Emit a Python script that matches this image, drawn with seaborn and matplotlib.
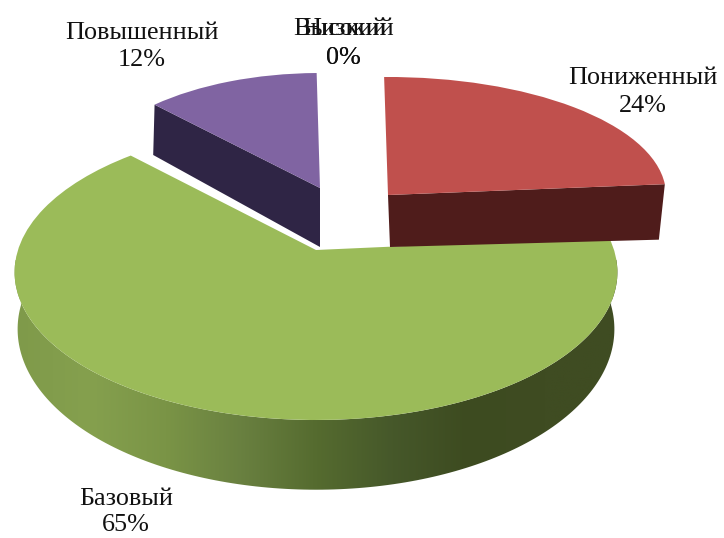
import numpy as np
import matplotlib
matplotlib.use("Agg")
import matplotlib.pyplot as plt
from matplotlib.colors import LinearSegmentedColormap
from matplotlib.patches import Polygon
from matplotlib.transforms import Transform
import seaborn as sns

sns.set_theme(style="white")
plt.rcParams['font.family'] = ['Liberation Serif', 'DejaVu Serif']

categories = ["Пониженный", "Базовый", "Повышенный", "Высокий", "Низкий"]
values = [24, 65, 12, 0, 0]
percent_labels = ["24%", "65%", "12%", "0%", "0%"]
top_colors = ["#C0504D", "#9BBB59", "#8064A2", "#4BACC6", "#F79646"]
side_colors = ["#4F1C1B", "#3E4C20", "#2F2545"]
green_side = ["#7f9a4a", "#85a04e", "#7a9446", "#698040", "#556b2f", "#46582a", "#3d4b20", "#3f4c22", "#3f4c22"]


class Persp(Transform):
    input_dims = output_dims = 2
    def __init__(self, cx, cy, A, B, k):
        super().__init__()
        self.p = (cx, cy, A, B, k)
    def transform_non_affine(self, xy):
        cx, cy, A, B, k = self.p
        xy = np.asarray(xy, float)
        w = 1 + k * xy[:, 1]
        return np.column_stack([cx + A * xy[:, 0] / w, cy - B * xy[:, 1] / w])


top_geo = [(388, 195, 278, 118, 0.0), (316, 250, 298, 144.5, 0.15), (320, 188, 240, 115, 0.0)]
bot_geo = [(390, 247, 270, 80, 0.0), (316, 305, 295, 157, 0.15), (320, 247, 242, 127, 0.0)]

fig = plt.figure(figsize=(7.24, 5.38), dpi=100)
ax = fig.add_axes([0, 0, 1, 1])
wedges, _ = ax.pie(values, colors=top_colors, startangle=90.8, counterclock=False,
                   radius=1.0, frame=True, wedgeprops=dict(linewidth=0))
ax.set_aspect("auto")


def rim(theta1, theta2, geo, n=181):
    t = np.radians(np.linspace(theta1, theta2, n))
    return Persp(*geo).transform_non_affine(np.column_stack([np.cos(t), np.sin(t)]))


def chord(theta, gt, gb, color, z):
    r = np.radians(theta)
    pts = np.array([[0, 0], [np.cos(r), np.sin(r)]])
    p = Persp(*gt).transform_non_affine(pts)
    q = Persp(*gb).transform_non_affine(pts)
    ax.fill([p[0, 0], p[1, 0], q[1, 0], q[0, 0]], [p[0, 1], p[1, 1], q[1, 1], q[0, 1]],
            color=color, lw=0, zorder=z)


order = {1: 2, 2: 4, 0: 6}   # green behind, purple, red in front
cmap = LinearSegmentedColormap.from_list("g", green_side)

for i, z in order.items():
    w = wedges[i]
    th1, th2 = w.theta1, w.theta2
    w.set_transform(Persp(*top_geo[i]) + ax.transData)
    w.set_zorder(z + 1)
    w.set_clip_on(False)
    if i == 1:
        a = rim(180, 360, top_geo[1])
        b = rim(180, 360, bot_geo[1])
        poly = Polygon(np.vstack([a, b[::-1]]), closed=True, transform=ax.transData)
        im = ax.imshow(np.linspace(0, 1, 256)[None, :], cmap=cmap, aspect="auto",
                       extent=(14, 620, 495, 260), zorder=z, interpolation="bilinear")
        im.set_clip_path(poly)
    elif i == 0:
        chord(th1, top_geo[0], bot_geo[0], side_colors[0], z)
    else:
        chord(th2, top_geo[2], bot_geo[2], side_colors[2], z)

ax.set_xlim(0, 724)
ax.set_ylim(538, 0)
ax.axis("off")

fs = 18.8
ink = "#111111"
ax.text(142, 33, categories[2], ha="center", va="center", fontsize=fs, color=ink)
ax.text(142, 60, percent_labels[2], ha="center", va="center", fontsize=fs, color=ink)
ax.text(643, 78, categories[0], ha="center", va="center", fontsize=fs, color=ink)
ax.text(643, 106, percent_labels[0], ha="center", va="center", fontsize=fs, color=ink)
ax.text(126, 499, categories[1], ha="center", va="center", fontsize=fs, color=ink)
ax.text(126, 525, percent_labels[1], ha="center", va="center", fontsize=fs, color=ink)
ax.text(344, 29, categories[3], ha="center", va="center", fontsize=fs, color=ink)
ax.text(344, 29, categories[4], ha="center", va="center", fontsize=fs, color=ink)
ax.text(343, 58, percent_labels[3], ha="center", va="center", fontsize=fs, color=ink)
ax.text(343, 58, percent_labels[4], ha="center", va="center", fontsize=fs, color=ink)

fig.savefig("out.png", dpi=100)
